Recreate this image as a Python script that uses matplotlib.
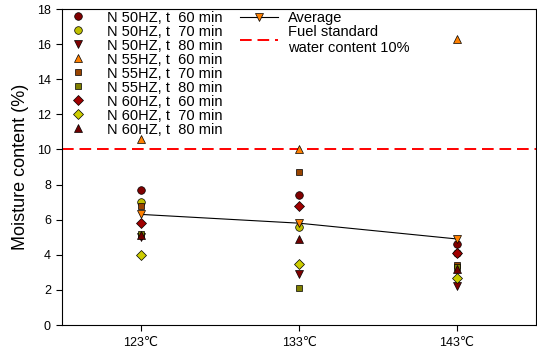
import matplotlib
matplotlib.use("Agg")
import matplotlib.pyplot as plt

plt.rcParams['font.family'] = ['Liberation Sans', 'DejaVu Sans']

categories = ["123℃", "133℃", "143℃"]
series_labels = ["N 50HZ, t  60 min", "N 50HZ, t  70 min", "N 50HZ, t  80 min",
                 "N 55HZ, t  60 min", "N 55HZ, t  70 min", "N 55HZ, t  80 min",
                 "N 60HZ, t  60 min", "N 60HZ, t  70 min", "N 60HZ, t  80 min"]
n50_60 = [7.7, 7.4, 4.6]
n50_70 = [7.0, 5.6, 4.1]
n50_80 = [5.0, 2.9, 2.2]
n55_60 = [10.6, 10.0, 16.3]
n55_70 = [6.8, 8.7, 3.4]
n55_80 = [5.2, 2.1, 3.3]
n60_60 = [5.8, 6.8, 4.1]
n60_70 = [4.0, 3.5, 2.7]
n60_80 = [5.1, 4.9, 3.2]
average = [6.3, 5.8, 4.9]
standard = 10

series = [n50_60, n50_70, n50_80, n55_60, n55_70, n55_80, n60_60, n60_70, n60_80]
markers = ['o', 'o', 'v', '^', 's', 's', 'D', 'D', '^']
colors = ['#800000', '#BFBF00', '#800000', '#FF8000', '#994400', '#808000',
          '#A00000', '#CCCC00', '#700000']
sizes = [5.5, 5.5, 6, 6, 5, 5, 5, 5, 6]

fig = plt.figure(figsize=(5.37, 3.52), dpi=100)
ax = fig.add_axes([62/537, 27/352, 474/537, 316/352])

x = list(range(len(categories)))
handles = []
for vals, m, c, s, lab in zip(series, markers, colors, sizes, series_labels):
    h, = ax.plot(x, vals, linestyle='none', marker=m, markersize=s,
                 markerfacecolor=c, markeredgecolor='black', markeredgewidth=0.5,
                 label=lab, zorder=3)
    handles.append(h)

avg_h, = ax.plot(x, average, color='black', linewidth=0.8, marker='v', markersize=6,
                 markerfacecolor='#FF8000', markeredgecolor='black', markeredgewidth=0.5,
                 label='Average', zorder=4)
std_h = ax.axhline(standard, color='red', linestyle=(0, (6, 3)), linewidth=1.4,
                   label='Fuel standard\nwater content 10%', zorder=2)

ax.set_xlim(-0.5, 2.5)
ax.set_ylim(0, 18)
ax.set_yticks(range(0, 19, 2))
ax.set_xticks(x)
ax.set_xticklabels(categories)
ax.tick_params(axis='both', labelsize=9, direction='out', length=4.5, width=0.8)
ax.tick_params(axis='x', pad=4)
ax.set_ylabel('Moisture content (%)', fontsize=13, labelpad=6)
for sp in ax.spines.values():
    sp.set_linewidth(0.8)

leg1 = ax.legend(handles=handles, loc='upper left', bbox_to_anchor=(0.0, 1.022),
                 frameon=False, fontsize=10.5, handlelength=1.0, handletextpad=1.48,
                 labelspacing=0.0, borderaxespad=0.0, borderpad=0.6,
                 handleheight=0.8)
ax.add_artist(leg1)
leg2 = ax.legend(handles=[avg_h, std_h], loc='upper left',
                 bbox_to_anchor=(0.357, 1.022), frameon=False, fontsize=10.5,
                 handlelength=2.6, handletextpad=0.68, labelspacing=0.0,
                 borderaxespad=0.0, borderpad=0.6)

fig.savefig('out.png', dpi=100)
